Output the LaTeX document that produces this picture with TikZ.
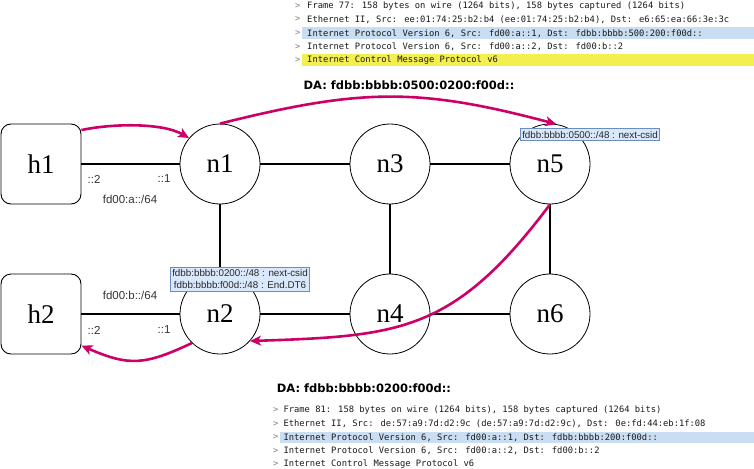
\documentclass[tikz,border=0pt]{standalone}
\usepackage{fontspec}
\setmainfont{Liberation Serif}
\newfontfamily\lsans{Liberation Sans}
\newfontfamily\lmono{DejaVu Sans Mono}
\newfontfamily\dvs{DejaVu Sans}
\usetikzlibrary{arrows.meta}
\definecolor{arr}{HTML}{CC0066}
\definecolor{sidf}{HTML}{DAE8FC}
\definecolor{sidb}{HTML}{6C8EBF}
\definecolor{selblue}{HTML}{C9DEF2}
\definecolor{selyel}{HTML}{F3EF50}
\begin{document}
\begin{tikzpicture}[x=1pt,y=-1pt,
  host/.style={draw, rounded corners=10pt, minimum width=80pt, minimum height=80pt, line width=0.9pt, inner sep=0pt, font=\fontsize{27}{30}\selectfont},
  router/.style={draw, circle, minimum size=80pt, line width=0.8pt, inner sep=0pt, font=\fontsize{27}{30}\selectfont, fill=white},
  link/.style={line width=1.6pt},
  flow/.style={draw=arr, line width=2.6pt, -{Stealth[length=11pt,width=10pt,inset=3pt]}},
  lbl/.style={font=\lsans\fontsize{11.5}{13}\selectfont, text=black!80, inner sep=0pt},
  sid/.style={draw=sidb, fill=sidf, line width=0.8pt, font=\lsans\fontsize{9.8}{12}\selectfont, inner xsep=2pt, inner ysep=2.5pt, align=center, text=black!85},
  da/.style={font=\dvs\bfseries\fontsize{11.5}{13}\selectfont, inner sep=0pt},
  pkt/.style={font=\lmono\fontsize{8.8}{10}\selectfont, anchor=west, inner sep=0pt, text=black!90},
  gt/.style={font=\lmono\fontsize{8.8}{10}\selectfont, anchor=west, inner sep=0pt, text=black!50}]
\useasboundingbox (0,0) rectangle (754,468);

% packet panels
\fill[selblue] (302,27.5) rectangle (754,39.5);
\fill[selyel] (302,54) rectangle (754,66);
\node[gt] (tg1) at (295,6) {>};
\node[gt] (tg2) at (295,19.5) {>};
\node[gt] (tg3) at (295,33.3) {>};
\node[gt] (tg4) at (295,46.8) {>};
\node[gt] (tg5) at (295,60) {>};
\node[pkt] (t1) at (307,6) {Frame 77: 158 bytes on wire (1264 bits), 158 bytes captured (1264 bits)};
\node[pkt] (t2) at (307,19.5) {Ethernet II, Src: ee:01:74:25:b2:b4 (ee:01:74:25:b2:b4), Dst: e6:65:ea:66:3e:3c};
\node[pkt] (t3) at (307,33.3) {Internet Protocol Version 6, Src: fd00:a::1, Dst: fdbb:bbbb:500:200:f00d::};
\node[pkt] (t4) at (307,46.8) {Internet Protocol Version 6, Src: fd00:a::2, Dst: fd00:b::2};
\node[pkt] (t5) at (307,60) {Internet Control Message Protocol v6};

\fill[selblue] (280,431.7) rectangle (754,443.3);
\node[gt] (bg1) at (273,410) {>};
\node[gt] (bg2) at (273,424) {>};
\node[gt] (bg3) at (273,437.5) {>};
\node[gt] (bg4) at (273,451) {>};
\node[gt] (bg5) at (273,464) {>};
\node[pkt] (b1) at (283.3,410) {Frame 81: 158 bytes on wire (1264 bits), 158 bytes captured (1264 bits)};
\node[pkt] (b2) at (283.3,424) {Ethernet II, Src: de:57:a9:7d:d2:9c (de:57:a9:7d:d2:9c), Dst: 0e:fd:44:eb:1f:08};
\node[pkt] (b3) at (283.3,437.5) {Internet Protocol Version 6, Src: fd00:a::1, Dst: fdbb:bbbb:200:f00d::};
\node[pkt] (b4) at (283.3,451) {Internet Protocol Version 6, Src: fd00:a::2, Dst: fd00:b::2};
\node[pkt] (b5) at (283.3,464) {Internet Control Message Protocol v6};

% nodes
\node[host] (h1) at (41,164) {h1};
\node[host] (h2) at (41,314) {h2};
\node[router] (n1) at (220,164) {n1};
\node[router] (n3) at (390,164) {n3};
\node[router] (n5) at (550,164) {n5};
\node[router] (n2) at (220,314) {n2};
\node[router] (n4) at (390,314) {n4};
\node[router] (n6) at (550,314) {n6};

% links
\draw[link] (h1) -- (n1);
\draw[link] (n1) -- (n3);
\draw[link] (n3) -- (n5);
\draw[link] (n1) -- (n2);
\draw[link] (n3) -- (n4);
\draw[link] (n5) -- (n6);
\draw[link] (h2) -- (n2);
\draw[link] (n2) -- (n4);
\draw[link] (n4) -- (n6);

% labels
\node[lbl] (a2) at (94,179) {::2};
\node[lbl] (a1) at (164,179) {::1};
\node[lbl] (anet) at (130,199) {fd00:a::/64};
\node[lbl] (bnet) at (130,295) {fd00:b::/64};
\node[lbl] (b2l) at (94,330) {::2};
\node[lbl] (b1l) at (164,330) {::1};

\node[sid] (s1) at (590,134.5) {fdbb:bbbb:0500::/48 : next-csid};
\node[sid] (s2) at (240,279) {fdbb:bbbb:0200::/48 : next-csid\\fdbb:bbbb:f00d::/48 : End.DT6};

\node[da] (da1) at (409,85) {DA: fdbb:bbbb:0500:0200:f00d::};
\node[da] (da2) at (364,388) {DA: fdbb:bbbb:0200:f00d::};

% flows
\draw[flow] (h1.40) .. controls +(30,-6.5) and +(-27,-15.5) .. (n1.140);
\draw[flow] (n1.north) .. controls +(140,-35) and +(-139,-37) .. (n5.81);
\draw[flow] (n5.south) .. controls +(-96,128) and +(150,-5) .. (n2.-42);
\draw[flow] (n2.-134) .. controls +(-47,22) and +(48,21) .. (h2.-38);
\end{tikzpicture}
\end{document}
